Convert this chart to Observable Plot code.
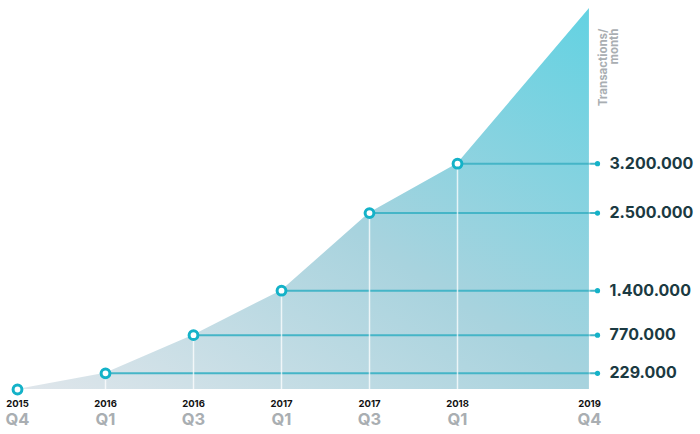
<!DOCTYPE html>
<html>
<head>
<meta charset="utf-8">
<script src="https://cdn.jsdelivr.net/npm/d3@7"></script>
<script src="https://cdn.jsdelivr.net/npm/@observablehq/plot@0.6"></script>
<style>
  html, body { margin: 0; padding: 0; background: #fff; }
  #chart svg { display: block; }
</style>
</head>
<body>
<div id="chart"></div>
<script>
// ---- data ----
const quarters = ["2015 Q4", "2016 Q1", "2016 Q3", "2017 Q1", "2017 Q3", "2018 Q1", "2019 Q4"];
const yearLabels = ["2015", "2016", "2016", "2017", "2017", "2018", "2019"];
const quarterLabels = ["Q4", "Q1", "Q3", "Q1", "Q3", "Q1", "Q4"];
const transactions = [0, 229000, 770000, 1400000, 2500000, 3200000, 5400000];
const unitLabel = "Transactions/\nmonth";

// x domain with spacer slots (wider gap before the last quarter)
const xDomain = ["2015 Q4", "s1", "2016 Q1", "s2", "2016 Q3", "s3", "2017 Q1", "s4", "2017 Q3", "s5", "2018 Q1", "s6", "s7", "2019 Q4"];

const data = quarters.map((q, i) => ({q, year: yearLabels[i], qt: quarterLabels[i], v: transactions[i]}));
const pointsData = data.slice(0, -1);           // marked points
const labeled = data.slice(1, -1);              // points with value labels
const last = quarters[quarters.length - 1];

const fmt = d3.formatLocale({decimal: ",", thousands: ".", grouping: [3], currency: ["", ""]}).format(",d");

const teal = "#14b2c8";
const lineTeal = "#45b5c7";
const font = "Inter, 'Open Sans', sans-serif";

const plot = Plot.plot({
  width: 700,
  height: 434,
  marginLeft: 16,
  marginRight: 110,
  marginTop: 8,
  marginBottom: 45,
  style: {fontFamily: font, background: "#fff", overflow: "visible"},
  x: {type: "point", domain: xDomain, padding: 0, axis: null},
  y: {domain: [0, d3.max(transactions)], axis: null},
  marks: [
    Plot.areaY(data, {x: "q", y: "v", fill: "url(#areaGrad)", curve: "linear"}),
    Plot.ruleY(labeled, {y: "v", x1: "q", x2: () => last, stroke: lineTeal, strokeWidth: 2, insetRight: -8}),
    Plot.ruleX(labeled, {x: "q", y1: 0, y2: "v", stroke: "#fff", strokeWidth: 1.5, strokeOpacity: 0.75}),
    Plot.ruleX([data[data.length - 1]], {x: "q", y1: 0, y2: "v", stroke: "#fff", strokeWidth: 1.5, strokeOpacity: 0.35}),
    Plot.dot(labeled, {x: () => last, y: "v", dx: 8, r: 2.6, fill: teal, stroke: "none"}),
    Plot.dot(pointsData, {x: "q", y: "v", r: 4.4, fill: "#fff", stroke: teal, strokeWidth: 3}),
    Plot.text(labeled, {x: () => last, y: "v", text: d => fmt(d.v), dx: 20, textAnchor: "start",
      fontSize: 16, fontWeight: 700, fill: "#1b3a42"}),
    Plot.text(data, {x: "q", frameAnchor: "bottom", text: "year", dy: 17, lineAnchor: "bottom",
      fontSize: 9.5, fontWeight: 700, fill: "#111"}),
    Plot.text(data, {x: "q", frameAnchor: "bottom", text: "qt", dy: 24, lineAnchor: "top",
      fontSize: 16.5, fontWeight: 700, fill: "#a9aeb2"}),
    Plot.text([unitLabel], {x: () => last, frameAnchor: "top", text: d => d, rotate: -90, textAnchor: "end",
      lineAnchor: "middle", dx: 19.5, dy: 20, fontSize: 11.5, fontWeight: 700, fill: "#a9aeb2", lineHeight: 0.96})
  ]
});

// gradient definition for the area fill
const svg = d3.select(plot);
const defs = svg.insert("defs", ":first-child");
const grad = defs.append("linearGradient")
  .attr("id", "areaGrad")
  .attr("x1", 0).attr("y1", 1).attr("x2", 1).attr("y2", 0);
grad.append("stop").attr("offset", 0).attr("stop-color", "#e0e6eb");
grad.append("stop").attr("offset", 0.5).attr("stop-color", "#a8d3de");
grad.append("stop").attr("offset", 1).attr("stop-color", "#63d2e2");

document.getElementById("chart").appendChild(plot);
</script>
</body>
</html>
